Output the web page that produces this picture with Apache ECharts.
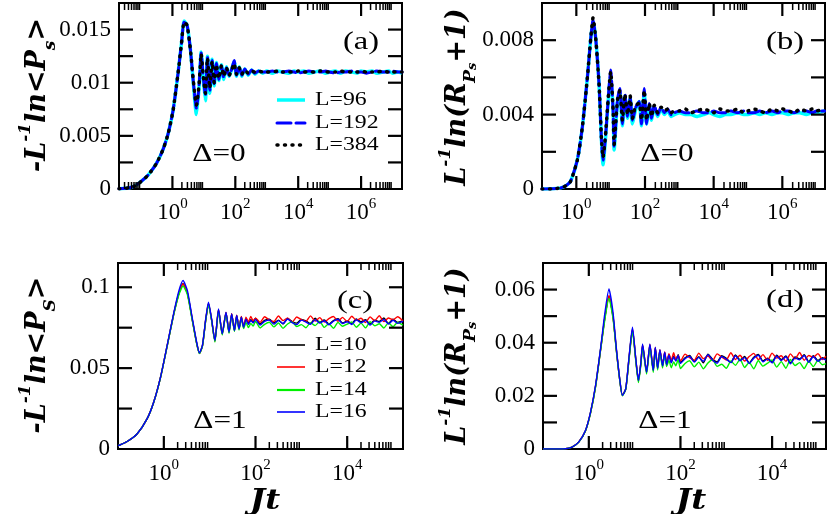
<!DOCTYPE html>
<html>
<head>
<meta charset="utf-8">
<script src="https://cdn.jsdelivr.net/npm/echarts@6.0.0/dist/echarts.min.js"></script>
<style>
html, body {margin: 0; padding: 0; background: #fff;}
#main {width: 830px; height: 514px;}
</style>
</head>
<body>
<div id="main"></div>
<script>
// (a) Delta=0, -ln<Ps>/L
var tA = [0.02, 0.04, 0.06, 0.091, 0.168, 0.31, 0.5, 0.73, 1.05, 1.51, 1.94, 2.35, 2.93, 3.74, 4.55, 5.8, 7.1, 8.2, 9.5, 11.2,
    13, 15.5, 18.3, 21.3, 25.1, 29.9, 36.3, 43, 52.3, 63.6, 77, 92, 109, 133, 161, 200, 257, 330, 420, 550,
    750, 1000, 1500, 2200, 3200, 5000, 7500, 1e4, 1.5e4, 2.2e4, 3.2e4, 5e4, 7.5e4, 1e5, 1.5e5, 2.2e5, 3.2e5, 5e5, 7.5e5, 1e6,
    1.5e6, 2.2e6, 3.2e6, 5e6, 7.5e6, 1e7, 1.5e7, 2e7];
var a96 = [0.00003, 0.0001, 0.00025, 0.0006, 0.0013, 0.0024, 0.0037, 0.0052, 0.0074, 0.0109, 0.0137,
    0.0158, 0.0154, 0.0131, 0.0102, 0.0070, 0.0097, 0.0129, 0.0104, 0.0083, 0.0125, 0.0090, 0.0122, 0.0097, 0.0119,
    0.0102, 0.0117, 0.0103, 0.0115, 0.0106, 0.0113, 0.0120, 0.0106, 0.0115, 0.0106, 0.0113, 0.0107, 0.0112, 0.0108, 0.0111, 0.0109,
    0.0111, 0.0109, 0.0111, 0.0110, 0.0109, 0.0111, 0.0110, 0.0111, 0.0109, 0.0110, 0.0111, 0.0109, 0.0110, 0.0111,
    0.0109, 0.0111, 0.0110, 0.0109, 0.0111, 0.0110, 0.0111, 0.0109, 0.0110, 0.0111, 0.0109, 0.0110, 0.0109];
var a192 = [0.00003, 0.0001, 0.00025, 0.0006, 0.0013, 0.0024, 0.0037, 0.0052, 0.0074, 0.0109, 0.0137,
    0.0157, 0.0154, 0.0131, 0.0103, 0.0076, 0.0099, 0.0128, 0.0106, 0.0088, 0.0124, 0.0093, 0.0121, 0.0099, 0.0118,
    0.0103, 0.0116, 0.0105, 0.0114, 0.0107, 0.0113, 0.0121, 0.0107, 0.0115, 0.0107, 0.0113, 0.0108, 0.0112, 0.0109, 0.0111, 0.0110,
    0.0110, 0.0111, 0.0110, 0.0110, 0.0111, 0.0110, 0.0109, 0.0110, 0.0111, 0.0110, 0.0110, 0.0111, 0.0110, 0.0109,
    0.0110, 0.0110, 0.0111, 0.0110, 0.0110, 0.0109, 0.0110, 0.0111, 0.0110, 0.0110, 0.0111, 0.0110, 0.0110];
var a384 = [0.00003, 0.0001, 0.00025, 0.0006, 0.0013, 0.0024, 0.0037, 0.0052, 0.0074, 0.0109, 0.0137,
    0.0157, 0.0154, 0.0131, 0.0104, 0.0079, 0.0100, 0.0127, 0.0107, 0.0090, 0.0123, 0.0095, 0.0120, 0.0100, 0.0117,
    0.0104, 0.0116, 0.0106, 0.0114, 0.0107, 0.0112, 0.0118, 0.0108, 0.0114, 0.0108, 0.0112, 0.0109, 0.0111, 0.0110, 0.0111, 0.0110,
    0.0110, 0.0110, 0.0111, 0.0110, 0.0110, 0.0110, 0.0111, 0.0110, 0.0110, 0.0110, 0.0111, 0.0110, 0.0110, 0.0110,
    0.0111, 0.0110, 0.0110, 0.0110, 0.0111, 0.0110, 0.0110, 0.0110, 0.0111, 0.0110, 0.0110, 0.0110, 0.0110];

// (b) Delta=0, ln(R+1)/L
var tB = [0.1, 0.2, 0.35, 0.5, 0.68, 1.07, 1.5, 2.1, 2.63, 3.07, 3.67, 4.6, 5.4, 6.0, 7.2, 9.0, 10, 11.8, 12.6, 15.8,
    18.5, 22, 25.9, 31, 37, 43, 54, 68, 79, 95, 111, 133, 155, 186, 234, 294, 366, 460, 578, 720,
    1000, 1500, 2200, 3200, 5000, 7500, 1e4, 1.5e4, 2.2e4, 3.2e4, 5e4, 7.5e4, 1e5, 1.5e5, 2.2e5, 3.2e5, 5e5, 7.5e5, 1e6, 1.5e6,
    2.2e6, 3.2e6, 5e6, 7.5e6, 1e7, 1.7e7];
var b96 = [0, 0.00001, 0.00006, 0.00018, 0.00041, 0.00156, 0.00334, 0.0060, 0.0081, 0.0090, 0.0081, 0.0056, 0.0026, 0.0013,
    0.0029, 0.0054, 0.0061, 0.0042, 0.0021, 0.0047, 0.0052, 0.0034, 0.0050, 0.0038, 0.0049, 0.0035, 0.0043, 0.0047,
    0.0034, 0.0052, 0.0035, 0.0045, 0.0037, 0.0044, 0.0039, 0.0043, 0.0040, 0.0042, 0.0039, 0.0040,
    0.0041, 0.0040, 0.0040, 0.0039, 0.0040, 0.0041, 0.0040, 0.0039, 0.0040, 0.0040, 0.0041, 0.0040, 0.0040,
    0.0041, 0.0040, 0.0041, 0.0040, 0.0041, 0.0041, 0.0040, 0.0041, 0.0041, 0.0040, 0.0041, 0.0041, 0.0042];
var b192 = [0, 0.00001, 0.00006, 0.00018, 0.00041, 0.00156, 0.00334, 0.0060, 0.0081, 0.0091, 0.0081, 0.0056, 0.0026, 0.00155,
    0.0030, 0.0055, 0.0064, 0.0042, 0.0023, 0.0048, 0.0054, 0.0035, 0.0051, 0.0039, 0.0049, 0.0037, 0.0044, 0.0047,
    0.0035, 0.0054, 0.0035, 0.0046, 0.0038, 0.0045, 0.0040, 0.0044, 0.0041, 0.0043, 0.0040, 0.0041,
    0.0042, 0.0041, 0.0041, 0.0042, 0.0041, 0.0041, 0.0042, 0.0041, 0.0041, 0.0042, 0.0041, 0.0042, 0.0041,
    0.0041, 0.0042, 0.0041, 0.0042, 0.0041, 0.0042, 0.0042, 0.0041, 0.0042, 0.0042, 0.0041, 0.0042, 0.0042];
var b384 = [0, 0.00001, 0.00006, 0.00018, 0.00041, 0.00156, 0.00334, 0.0060, 0.0081, 0.0092, 0.0081, 0.0056, 0.0027, 0.0017,
    0.0031, 0.0055, 0.0063, 0.0042, 0.0024, 0.0048, 0.0053, 0.0037, 0.0051, 0.0040, 0.0050, 0.0038, 0.0045, 0.0046,
    0.0037, 0.0053, 0.0037, 0.0046, 0.0039, 0.0045, 0.0041, 0.0044, 0.0042, 0.0043, 0.0041, 0.0042,
    0.0042, 0.0043, 0.0041, 0.0042, 0.0043, 0.0042, 0.0041, 0.0043, 0.0042, 0.0042, 0.0043, 0.0041, 0.0042,
    0.0043, 0.0042, 0.0041, 0.0043, 0.0042, 0.0043, 0.0042, 0.0041, 0.0043, 0.0042, 0.0043, 0.0042, 0.0043];

// (c) Delta=1, -ln<Ps>/L
var tC = [0.1, 0.155, 0.26, 0.43, 0.6, 0.845, 1.18, 1.66, 2.14, 2.62, 3.26, 4.2, 5.2, 5.98, 6.95, 8.2, 9.42, 11, 13, 15.6,
    18.8, 22.7, 26.4, 30.2, 34.7, 38.9, 43.7, 49, 55,
    62, 70, 79, 89, 100, 126, 158, 200, 251, 316, 398, 501, 631, 794, 1000, 1259, 1585, 1995, 2512, 3162,
    3981, 5012, 6310, 7943, 1e4, 1.26e4, 1.58e4, 2e4, 2.51e4, 3.16e4, 3.98e4, 5.01e4, 6.31e4, 7.94e4, 1e5, 1.26e5, 1.65e5];
var c10 = [0.0020, 0.0045, 0.0093, 0.0186, 0.0289, 0.0442, 0.0637, 0.0840, 0.0965, 0.1022, 0.0965, 0.0796, 0.0655, 0.0592,
    0.0637, 0.0798, 0.0900, 0.0800, 0.0668, 0.0860, 0.0712, 0.0843, 0.0722, 0.0834, 0.0733, 0.0825, 0.0743, 0.0816, 0.0754,
    0.0806, 0.0776, 0.0799, 0.0785, 0.0809, 0.0774, 0.0795, 0.0803, 0.0780, 0.0797, 0.0773, 0.0807, 0.0788, 0.0778,
    0.0801, 0.0792, 0.0775, 0.0808, 0.0783, 0.0798, 0.0772, 0.0794, 0.0805, 0.0779, 0.0791, 0.0777, 0.0804, 0.0786,
    0.0800, 0.0773, 0.0796, 0.0789, 0.0810, 0.0776, 0.0802, 0.0782, 0.0793];
var c12 = [0.0020, 0.0045, 0.0093, 0.0186, 0.0289, 0.0443, 0.0638, 0.0840, 0.0965, 0.1020, 0.0965, 0.0795, 0.0655, 0.0592,
    0.0637, 0.0798, 0.0900, 0.0800, 0.0668, 0.0862, 0.0712, 0.0845, 0.0724, 0.0836, 0.0736, 0.0828, 0.0746, 0.0820, 0.0758,
    0.0815, 0.0786, 0.0820, 0.0792, 0.0809, 0.0783, 0.0818, 0.0797, 0.0788, 0.0822, 0.0794, 0.0811, 0.0784, 0.0816,
    0.0800, 0.0789, 0.0823, 0.0791, 0.0812, 0.0785, 0.0806, 0.0819, 0.0790, 0.0814, 0.0787, 0.0821, 0.0796, 0.0808,
    0.0782, 0.0817, 0.0793, 0.0824, 0.0788, 0.0810, 0.0799, 0.0818, 0.0792];
var c14 = [0.0020, 0.0045, 0.0093, 0.0186, 0.0288, 0.0440, 0.0634, 0.0835, 0.0955, 0.1007, 0.0955, 0.0790, 0.0652, 0.0590,
    0.0635, 0.0793, 0.0893, 0.0795, 0.0662, 0.0855, 0.0705, 0.0838, 0.0716, 0.0828, 0.0727, 0.0818, 0.0736, 0.0808, 0.0745,
    0.0782, 0.0751, 0.0776, 0.0760, 0.0788, 0.0748, 0.0771, 0.0784, 0.0755, 0.0779, 0.0746, 0.0773, 0.0786, 0.0757,
    0.0769, 0.0750, 0.0781, 0.0763, 0.0789, 0.0752, 0.0775, 0.0747, 0.0783, 0.0759, 0.0772, 0.0785, 0.0753, 0.0778,
    0.0749, 0.0787, 0.0762, 0.0774, 0.0748, 0.0780, 0.0756, 0.0784, 0.0765];
var c16 = [0.0020, 0.0045, 0.0093, 0.0186, 0.0289, 0.0443, 0.0639, 0.0846, 0.0980, 0.1042, 0.0980, 0.0804, 0.0660, 0.0594,
    0.0640, 0.0804, 0.0908, 0.0804, 0.0670, 0.0866, 0.0712, 0.0846, 0.0722, 0.0835, 0.0732, 0.0825, 0.0742, 0.0815, 0.0753,
    0.0803, 0.0770, 0.0795, 0.0779, 0.0801, 0.0767, 0.0789, 0.0798, 0.0772, 0.0794, 0.0776, 0.0804, 0.0781, 0.0769,
    0.0797, 0.0785, 0.0771, 0.0800, 0.0778, 0.0793, 0.0768, 0.0790, 0.0802, 0.0775, 0.0787, 0.0770, 0.0799, 0.0780,
    0.0795, 0.0766, 0.0792, 0.0783, 0.0801, 0.0773, 0.0796, 0.0777, 0.0790];

// (d) Delta=1, ln(R+1)/L
var tD = [0.1, 0.2, 0.31, 0.43, 0.6, 0.845, 1.09, 1.4, 1.8, 2.25, 2.75, 3.37, 4.0, 4.72, 5.4, 6.4, 7.6, 8.96, 10.6, 12.1,
    13.7, 14.9, 18.2, 21.5, 25.5, 28.2, 31.7, 35.6, 40.7, 45.3, 50,
    56, 63, 71, 79, 89, 100, 126, 158, 200, 251, 316, 398, 501, 631, 794, 1000, 1259, 1585, 1995, 2512, 3162,
    3981, 5012, 6310, 7943, 1e4, 1.26e4, 1.58e4, 2e4, 2.51e4, 3.16e4, 3.98e4, 5.01e4, 6.31e4, 7.94e4, 1e5, 1.26e5, 1.5e5];
var d10 = [0, 0.00002, 0.0001, 0.00075, 0.0026, 0.0069, 0.0137, 0.0236, 0.0373, 0.0496, 0.0575, 0.0498, 0.0371, 0.0262,
    0.0202, 0.0226, 0.0347, 0.0450, 0.0336, 0.0256, 0.0324, 0.0390, 0.0289, 0.0391, 0.0295, 0.0380, 0.0305, 0.0371, 0.0313,
    0.0362, 0.0318,
    0.0356, 0.0327, 0.0349, 0.0334, 0.0355, 0.0325, 0.0343, 0.0352, 0.0330, 0.0347, 0.0324, 0.0357, 0.0338, 0.0328,
    0.0351, 0.0341, 0.0326, 0.0354, 0.0335, 0.0348, 0.0324, 0.0345, 0.0356, 0.0331, 0.0342, 0.0327, 0.0353, 0.0336,
    0.0350, 0.0325, 0.0346, 0.0339, 0.0355, 0.0329, 0.0351, 0.0333, 0.0344, 0.0337];
var d12 = [0, 0.00002, 0.0001, 0.00075, 0.0026, 0.0069, 0.0137, 0.0235, 0.0372, 0.0498, 0.0577, 0.0500, 0.0372, 0.0262,
    0.0202, 0.0226, 0.0348, 0.0452, 0.0337, 0.0257, 0.0325, 0.0392, 0.0290, 0.0393, 0.0297, 0.0382, 0.0307, 0.0374, 0.0316,
    0.0365, 0.0322,
    0.0359, 0.0333, 0.0362, 0.0338, 0.0352, 0.0331, 0.0357, 0.0344, 0.0334, 0.0361, 0.0340, 0.0350, 0.0332, 0.0358,
    0.0346, 0.0335, 0.0362, 0.0337, 0.0353, 0.0331, 0.0348, 0.0360, 0.0336, 0.0355, 0.0333, 0.0361, 0.0342, 0.0351,
    0.0330, 0.0358, 0.0339, 0.0363, 0.0334, 0.0352, 0.0345, 0.0359, 0.0337, 0.0349];
var d14 = [0, 0.00002, 0.0001, 0.0007, 0.0025, 0.0068, 0.0135, 0.0232, 0.0370, 0.0490, 0.0567, 0.0492, 0.0368, 0.0260,
    0.0200, 0.0224, 0.0342, 0.0443, 0.0330, 0.0250, 0.0318, 0.0383, 0.0282, 0.0385, 0.0288, 0.0373, 0.0297, 0.0364, 0.0305,
    0.0355, 0.0310,
    0.0334, 0.0306, 0.0328, 0.0313, 0.0337, 0.0303, 0.0322, 0.0332, 0.0309, 0.0327, 0.0302, 0.0324, 0.0336, 0.0311,
    0.0319, 0.0304, 0.0331, 0.0315, 0.0338, 0.0307, 0.0326, 0.0302, 0.0333, 0.0312, 0.0323, 0.0335, 0.0308, 0.0329,
    0.0304, 0.0337, 0.0314, 0.0325, 0.0303, 0.0330, 0.0310, 0.0334, 0.0317, 0.0321];
var d16 = [0, 0.00002, 0.0001, 0.00075, 0.0026, 0.0070, 0.0139, 0.0239, 0.0377, 0.0514, 0.0602, 0.0514, 0.0377, 0.0264,
    0.0201, 0.0227, 0.0352, 0.0458, 0.0339, 0.0258, 0.0327, 0.0395, 0.0289, 0.0395, 0.0295, 0.0383, 0.0304, 0.0374, 0.0312,
    0.0364, 0.0317,
    0.0354, 0.0324, 0.0346, 0.0331, 0.0352, 0.0322, 0.0340, 0.0349, 0.0327, 0.0345, 0.0330, 0.0355, 0.0335, 0.0323,
    0.0348, 0.0338, 0.0325, 0.0351, 0.0332, 0.0344, 0.0322, 0.0342, 0.0353, 0.0328, 0.0339, 0.0324, 0.0350, 0.0333,
    0.0347, 0.0321, 0.0343, 0.0336, 0.0352, 0.0326, 0.0348, 0.0330, 0.0341, 0.0334];

// ticks: x major/minor decades (exponents), y tick values
var minorMult = [2, 3, 4, 5, 6, 7, 8, 9];
var xMajA = [0, 2, 4, 6], xMinA = [-2, 0, 2, 4, 6];
var xMajB = [0, 2, 4, 6], xMinB = [0, 2, 4, 6];
var xMajC = [0, 2, 4], xMinC = [0, 2, 4];
var xMajD = [0, 2, 4], xMinD = [0, 2, 4];
var yTickA = [0.0025, 0.005, 0.0075, 0.01, 0.0125, 0.015];
var yTickB = [0.002, 0.004, 0.006, 0.008];
var yTickC = [0.025, 0.05, 0.075, 0.1];
var yTickD = [0.01, 0.02, 0.03, 0.04, 0.05, 0.06];

var serif = 'Liberation Serif';
var heavy = 'DejaVu Serif';

var myChart = echarts.init(document.getElementById('main'));

function pairs(t, y) {
    var out = [];
    for (var i = 0; i < Math.min(t.length, y.length); i++) {
        out.push([t[i], y[i]]);
    }
    return out;
}

function powLabel(v) {
    var e = Math.log(v) / Math.LN10;
    var r = Math.round(e);
    if (Math.abs(e - r) > 0.01 || r % 2 !== 0) return '';
    return '{b|10}{s|' + r + '}';
}

function xLog(i, min, max, margin) {
    return {
        type: 'log', logBase: 100, gridIndex: i, min: min, max: max,
        axisLine: {show: false}, axisTick: {show: false}, splitLine: {show: false},
        axisLabel: {
            margin: margin, formatter: powLabel, showMinLabel: true, showMaxLabel: true,
            rich: {
                b: {fontSize: 23, fontFamily: serif, color: '#000', lineHeight: 32},
                s: {fontSize: 15, fontFamily: serif, color: '#000', lineHeight: 15, verticalAlign: 'top'}
            }
        }
    };
}

function yLin(i, max, step) {
    return {
        type: 'value', gridIndex: i, min: 0, max: max, interval: step,
        axisLine: {show: false}, axisTick: {show: false}, splitLine: {show: false},
        axisLabel: {
            margin: 8, fontSize: 23, fontFamily: serif, color: '#000',
            formatter: function (v) {
                var k = v / step;
                return Math.abs(k - Math.round(k)) < 1e-6 ? String(+v.toFixed(4)) : '';
            }
        }
    };
}

function buildTicks(maj, min, yt, xMid, yMid) {
    var out = [];
    maj.forEach(function (e) { out.push([Math.pow(10, e), yMid, 0]); });
    min.forEach(function (e) {
        minorMult.forEach(function (m) { out.push([m * Math.pow(10, e), yMid, 1]); });
    });
    yt.forEach(function (v) { out.push([xMid, v, 2]); });
    return out;
}

function drawTick(params, api) {
    var cs = params.coordSys;
    var kind = api.value(2);
    var p = api.coord([api.value(0), api.value(1)]);
    var w = kind === 1 ? 1.5 : 2.2;
    if (kind === 2) {
        return {type: 'group', children: [
            {type: 'line', shape: {x1: cs.x, y1: p[1], x2: cs.x + 14, y2: p[1]}, style: {stroke: '#000', lineWidth: w}},
            {type: 'line', shape: {x1: cs.x + cs.width, y1: p[1], x2: cs.x + cs.width - 14, y2: p[1]}, style: {stroke: '#000', lineWidth: w}}
        ]};
    }
    var len = kind === 0 ? 13 : 7;
    var yb = cs.y + cs.height;
    return {type: 'group', children: [
        {type: 'line', shape: {x1: p[0], y1: yb, x2: p[0], y2: yb - len}, style: {stroke: '#000', lineWidth: w}},
        {type: 'line', shape: {x1: p[0], y1: cs.y, x2: p[0], y2: cs.y + len}, style: {stroke: '#000', lineWidth: w}}
    ]};
}

function tickSeries(i, data) {
    return {type: 'custom', xAxisIndex: i, yAxisIndex: i, renderItem: drawTick, data: data,
        encode: {x: 0, y: 1}, clip: false, silent: true, z: 10};
}

function curve(name, i, t, y, color, width, dash, smooth, z) {
    return {
        name: name, type: 'line', xAxisIndex: i, yAxisIndex: i, data: pairs(t, y),
        showSymbol: false, symbol: 'none', smooth: smooth, z: z,
        itemStyle: {color: color},
        lineStyle: {color: color, width: width, type: dash, cap: dash === 'solid' ? 'butt' : 'round'},
        emphasis: {disabled: true}
    };
}

var dashed = [14, 5];
var dotted = [1, 6.5];

function legendLine(x, y, color, width, dash) {
    return {type: 'line', shape: {x1: x, y1: y, x2: x + 28, y2: y},
        style: {stroke: color, lineWidth: width, lineDash: dash, lineCap: dash ? 'round' : 'butt'}};
}
function plainText(x, y, text, size, sx, align) {
    return {type: 'text', x: x, y: y, scaleX: sx,
        style: {text: text, fontSize: size, fontFamily: serif, fill: '#000',
            align: align, verticalAlign: 'middle', textAlign: align, textVerticalAlign: 'middle'}};
}
var titleRich = {
    m: {fontSize: 27, fontFamily: heavy, fontWeight: 'bold', fontStyle: 'italic', color: '#000', lineHeight: 42},
    sp: {fontSize: 17, fontFamily: heavy, fontWeight: 'bold', fontStyle: 'italic', color: '#000', lineHeight: 18, verticalAlign: 'top'},
    sb: {fontSize: 17, fontFamily: heavy, fontWeight: 'bold', fontStyle: 'italic', color: '#000', lineHeight: 27, verticalAlign: 'bottom'},
    ss: {fontSize: 13, fontFamily: heavy, fontWeight: 'bold', fontStyle: 'italic', color: '#000', lineHeight: 13, verticalAlign: 'bottom'}
};
function yTitle(x, y, text) {
    return {type: 'text', x: x, y: y, rotation: Math.PI / 2,
        style: {text: text, rich: titleRich, fill: '#000', align: 'center', verticalAlign: 'middle',
            textAlign: 'center', textVerticalAlign: 'middle'}};
}
function xTitle(x, y) {
    return {type: 'text', x: x, y: y, scaleX: 1.2,
        style: {text: 'Jt', fontSize: 27, fontFamily: heavy, fontWeight: 'bold', fontStyle: 'italic', fill: '#000',
            align: 'center', verticalAlign: 'middle', textAlign: 'center', textVerticalAlign: 'middle'}};
}

var box = {show: true, borderColor: '#000', borderWidth: 2, backgroundColor: 'transparent'};

var option = {
    animation: false,
    backgroundColor: '#fff',
    grid: [
        Object.assign({left: 119, top: 3, width: 283, height: 186}, box),
        Object.assign({left: 542, top: 3, width: 283, height: 186}, box),
        Object.assign({left: 118, top: 263, width: 285, height: 186}, box),
        Object.assign({left: 543, top: 263, width: 283, height: 186}, box)
    ],
    xAxis: [
        xLog(0, 0.02, 2e7, 8),
        xLog(1, 0.1, 1.75e7, 8),
        xLog(2, 0.1, 1.65e5, 9),
        xLog(3, 0.1, 1.5e5, 9)
    ],
    yAxis: [
        yLin(0, 0.0175, 0.005),
        yLin(1, 0.01, 0.004),
        yLin(2, 0.115, 0.05),
        yLin(3, 0.07, 0.02)
    ],
    series: [
        curve('L=96', 0, tA, a96, '#00ffff', 3.5, 'solid', 0.2, 2),
        curve('L=192', 0, tA, a192, '#0000ff', 3, dashed, 0.2, 3),
        curve('L=384', 0, tA, a384, '#000000', 3.5, dotted, 0.2, 4),
        curve('L=96', 1, tB, b96, '#00ffff', 3.5, 'solid', 0.2, 2),
        curve('L=192', 1, tB, b192, '#0000ff', 3, dashed, 0.2, 3),
        curve('L=384', 1, tB, b384, '#000000', 3.5, dotted, 0.2, 4),
        curve('L=10', 2, tC, c10, '#000000', 1.4, 'solid', 0.2, 2),
        curve('L=12', 2, tC, c12, '#ff0000', 1.4, 'solid', 0.2, 3),
        curve('L=14', 2, tC, c14, '#00f000', 1.4, 'solid', 0.2, 4),
        curve('L=16', 2, tC, c16, '#0000ff', 1.4, 'solid', 0.2, 5),
        curve('L=10', 3, tD, d10, '#000000', 1.4, 'solid', 0.2, 2),
        curve('L=12', 3, tD, d12, '#ff0000', 1.4, 'solid', 0.2, 3),
        curve('L=14', 3, tD, d14, '#00f000', 1.4, 'solid', 0.2, 4),
        curve('L=16', 3, tD, d16, '#0000ff', 1.4, 'solid', 0.2, 5),
        tickSeries(0, buildTicks(xMajA, xMinA, yTickA, 1, 0.008)),
        tickSeries(1, buildTicks(xMajB, xMinB, yTickB, 1, 0.005)),
        tickSeries(2, buildTicks(xMajC, xMinC, yTickC, 1, 0.05)),
        tickSeries(3, buildTicks(xMajD, xMinD, yTickD, 1, 0.03))
    ],
    graphic: [
        yTitle(38, 95, '{m|-L}{sp|-1}{m|ln<P}{sb|s}{m|>}'),
        yTitle(458, 97, '{m|L}{sp|-1}{m|ln(R}{sb|P}{ss|s}{m|+1)}'),
        yTitle(38, 355, '{m|-L}{sp|-1}{m|ln<P}{sb|S}{m|>}'),
        yTitle(458, 356, '{m|L}{sp|-1}{m|ln(R}{sb|P}{ss|s}{m|+1)}'),
        xTitle(265, 502),
        xTitle(691, 502),
        plainText(361, 42, '(a)', 26, 1.25, 'center'),
        plainText(785, 42, '(b)', 26, 1.25, 'center'),
        plainText(355, 301, '(c)', 26, 1.25, 'center'),
        plainText(785, 300, '(d)', 26, 1.25, 'center'),
        plainText(219, 154, '\u0394=0', 25, 1.25, 'center'),
        plainText(667, 154, '\u0394=0', 25, 1.25, 'center'),
        plainText(220, 421, '\u0394=1', 25, 1.25, 'center'),
        plainText(665, 421, '\u0394=1', 25, 1.25, 'center'),
        // legend (a)
        legendLine(277, 100, '#00ffff', 3.5, null),
        legendLine(277, 123, '#0000ff', 3, dashed),
        legendLine(277, 145, '#000000', 3.5, dotted),
        plainText(315, 100, 'L=96', 19, 1.25, 'left'),
        plainText(315, 123, 'L=192', 19, 1.25, 'left'),
        plainText(315, 145, 'L=384', 19, 1.25, 'left'),
        // legend (c)
        legendLine(277, 345, '#000000', 1.6, null),
        legendLine(277, 367, '#ff0000', 1.6, null),
        legendLine(277, 390, '#00f000', 2.2, null),
        legendLine(277, 412, '#0000ff', 1.6, null),
        plainText(315, 345, 'L=10', 19, 1.25, 'left'),
        plainText(315, 367, 'L=12', 19, 1.25, 'left'),
        plainText(315, 390, 'L=14', 19, 1.25, 'left'),
        plainText(315, 412, 'L=16', 19, 1.25, 'left')
    ]
};
myChart.setOption(option);
</script>
</body>
</html>
